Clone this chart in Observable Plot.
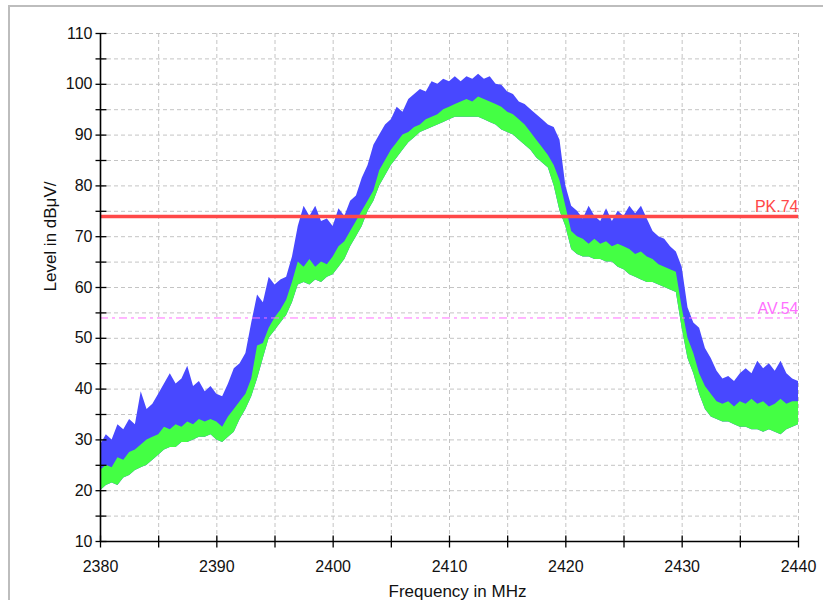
<!DOCTYPE html>
<html>
<head>
<meta charset="utf-8">
<script src="https://cdn.jsdelivr.net/npm/d3@7"></script>
<script src="https://cdn.jsdelivr.net/npm/@observablehq/plot@0.6"></script>
<style>
  html, body { margin: 0; padding: 0; background: #fff; overflow: hidden; }
  #wrap { position: relative; width: 823px; height: 600px; overflow: hidden; }
  #border { position: absolute; left: 8px; top: 5px; width: 900px; height: 700px;
            border-left: 2px solid #bdbdbd; border-top: 2px solid #bdbdbd; }
  #chart { position: absolute; left: 0; top: 0; }
</style>
</head>
<body>
<div id="wrap"><div id="border"></div><div id="chart"></div></div>
<script>
// Frequency samples (MHz)
const freq = [2380,2380.5,2381,2381.5,2382,2382.5,2383,2383.5,2384,2384.5,2385,2385.5,2386,2386.5,2387,2387.5,2388,2388.5,2389,2389.5,
2390,2390.5,2391,2391.5,2392,2392.5,2393,2393.5,2394,2394.5,2395,2395.5,2396,2396.5,2397,2397.5,2398,2398.5,2399,2399.5,
2400,2400.5,2401,2401.5,2402,2402.5,2403,2403.5,2404,2404.5,2405,2405.5,2406,2406.5,2407,2407.5,2408,2408.5,2409,2409.5,
2410,2410.5,2411,2411.5,2412,2412.5,2413,2413.5,2414,2414.5,2415,2415.5,2416,2416.5,2417,2417.5,2418,2418.5,2419,2419.5,
2420,2420.5,2421,2421.5,2422,2422.5,2423,2423.5,2424,2424.5,2425,2425.5,2426,2426.5,2427,2427.5,2428,2428.5,2429,2429.5,
2430,2430.5,2431,2431.5,2432,2432.5,2433,2433.5,2434,2434.5,2435,2435.5,2436,2436.5,2437,2437.5,2438,2438.5,2439,2439.5,2440];

// Peak trace (blue) upper envelope, dBµV
const peakHi = [29,31,30,33,32,34,33,39.5,36,37,39,41,43,41,42,44.5,40.5,41.5,39.5,40.5,
39,38.5,41,44,45,47,53,58.5,57,62,60.5,61.5,62,66,72,76,74,76,73,73.5,
72,75.5,74,77,78,81.5,84,88,90,92,93,95.5,94.5,97,98,99,98.5,100.5,100,101,
100.5,101.5,100.5,101.5,101,102,101,101.5,100,99.8,98.5,98,96.5,96,95,94,93,92,91.5,89,
80,76,75,73.5,76,74,73,75.5,73,75,74,76,74.5,76,73.5,71,70,69.5,68,67,
64,56,53,52,48,46,43.5,42,42.5,41.5,43,44,43,45.5,44,45,43.5,45.5,43,42,41.5];

// Average trace (green) upper envelope
const avgHi = [24,25,24.5,26.5,26,27.5,28,29,30,30.5,31,32.5,32,33,32.5,33.5,33,34,33.5,34,
33.5,32.5,34.5,36,37.5,39,42,48.5,49,52,54,55.5,57.5,61,65,64,65.5,64,65,64.5,
66,68,69,71,73,75,77,79,83,85,87,88.5,90,90.5,91.5,92,93,93.5,94,95,
95.5,96,96.5,97,96.5,97.5,97,96.5,96,95.5,94.5,94,93,92,90.5,89,87.5,86,84,81,
76,71,70,69.5,68.5,69.5,68.5,69,68,68.5,68,67.5,66.5,67,66,65.5,64.5,64,63.5,63,
56,50,47,43,40.5,39,37.5,37,37.5,36.5,37.5,37,38,37,37.5,36.5,37,38,37,37.5,37.5];

// Average trace (green) lower envelope
const avgLo = [20,21,21.5,21,22.5,23,24,24.5,25,26,27,28,28.5,28.5,29.5,29.5,30,30.5,30.5,31,
30,29.5,30.5,31.5,34,36,38.5,42,46,50,51.5,53,54.5,57,60.5,61,60.5,61.5,61,62,
62.5,64,65.5,68,70,72,75,77,80,82,84,85.5,87,88.5,89.5,90.5,91,91.5,92,92.5,
93,93.5,93.5,93.5,93.5,93.5,93,92.5,92,91,90.5,90,89,88,87,85.5,84.5,83.5,80,75,
72,67.5,66.5,66,66,65.5,65.5,65,65,64,63.5,62.5,62,61.5,61,61,60.5,60,59.5,59,
52,46,43,39,36,34.5,34,33.5,33.5,33,32.5,32.5,32,32,31.5,32,31.5,31,32,32.5,33];

// Limit lines
const limitNames = ["PK.74", "AV.54"];
const limitValues = [74, 54];

// Axes
const xDomain = [2380, 2440];
const yDomain = [10, 110];
const xLabelTicks = [2380,2390,2400,2410,2420,2430,2440];
const xAllTicks = [2380,2385,2390,2395,2400,2405,2410,2415,2420,2425,2430,2435,2440];
const xGrid = [2385,2390,2395,2400,2405,2410,2415,2420,2425,2430,2435,2440];
const yLabelTicks = [10,20,30,40,50,60,70,80,90,100,110];
const yAllTicks = [10,15,20,25,30,35,40,45,50,55,60,65,70,75,80,85,90,95,100,105,110];
const yGrid = [15,20,25,30,35,40,45,50,55,60,65,70,75,80,85,90,95,100,105,110];

const xTitle = "Frequency in MHz";
const yTitle = "Level in dBμV/";

const data = freq.map((f, i) => ({f, peakHi: peakHi[i], avgHi: avgHi[i], avgLo: avgLo[i]}));
const limits = limitNames.map((n, i) => ({name: n, value: limitValues[i]}));

const vTick = {draw(ctx) { ctx.moveTo(0, -6); ctx.lineTo(0, 6); }};
const hTick = {draw(ctx) { ctx.moveTo(-5, 0); ctx.lineTo(6, 0); }};

const blue = "#4848ff";
const green = "#44ff44";
const red = "#ff4848";
const magenta = "#ff70ff";
const font = "'Liberation Sans', Arial, sans-serif";

const plot = Plot.plot({
  width: 823,
  height: 600,
  marginLeft: 100,
  marginRight: 25,
  marginTop: 33,
  marginBottom: 59,
  x: {domain: xDomain},
  y: {domain: yDomain},
  style: {fontFamily: font, fontSize: "16px", color: "#111", background: "transparent", overflow: "visible"},
  marks: [
    Plot.gridX(xGrid, {stroke: "#c4c4c4", strokeOpacity: 1, strokeDasharray: "4,3"}),
    Plot.gridY(yGrid, {stroke: "#c4c4c4", strokeOpacity: 1, strokeDasharray: "4,3"}),
    Plot.areaY(data, {x: "f", y1: "avgLo", y2: "peakHi", fill: blue}),
    Plot.areaY(data, {x: "f", y1: "avgLo", y2: "avgHi", fill: green}),
    Plot.ruleY(limits.filter(d => d.value === 54), {y: "value", stroke: magenta, strokeWidth: 1, strokeDasharray: "8,4,3,4"}),
    Plot.ruleY(limits.filter(d => d.value === 74), {y: "value", stroke: red, strokeWidth: 3.5}),
    Plot.text(limits, {y: "value", text: "name", frameAnchor: "right", textAnchor: "end", lineAnchor: "bottom",
      dy: -4, fontSize: 16, fill: d => d.value === 74 ? red : magenta}),
    Plot.ruleX([xDomain[0]], {stroke: "#000", strokeWidth: 1.6}),
    Plot.ruleY([yDomain[0]], {stroke: "#000", strokeWidth: 1.6}),
    Plot.dot(xAllTicks, {x: d => d, frameAnchor: "bottom", symbol: vTick, stroke: "#000", strokeWidth: 1.3, fill: "none"}),
    Plot.dot(yAllTicks, {y: d => d, frameAnchor: "left", symbol: hTick, stroke: "#000", strokeWidth: 1.3, fill: "none"}),
    Plot.axisX(xLabelTicks, {tickSize: 0, tickPadding: 19, tickFormat: "d", label: null, fontSize: 16}),
    Plot.axisY(yLabelTicks, {tickSize: 0, tickPadding: 8, tickFormat: "d", label: null, fontSize: 16}),
    Plot.text([xTitle], {text: d => d, frameAnchor: "bottom", dy: 50, dx: 8, fontSize: 17, lineAnchor: "middle", fill: "#111"}),
    Plot.text([yTitle], {text: d => d, frameAnchor: "left", dx: -50, dy: 4, rotate: -90, fontSize: 17, lineAnchor: "middle", fill: "#111"})
  ]
});
document.getElementById("chart").appendChild(plot);
</script>
</body>
</html>
